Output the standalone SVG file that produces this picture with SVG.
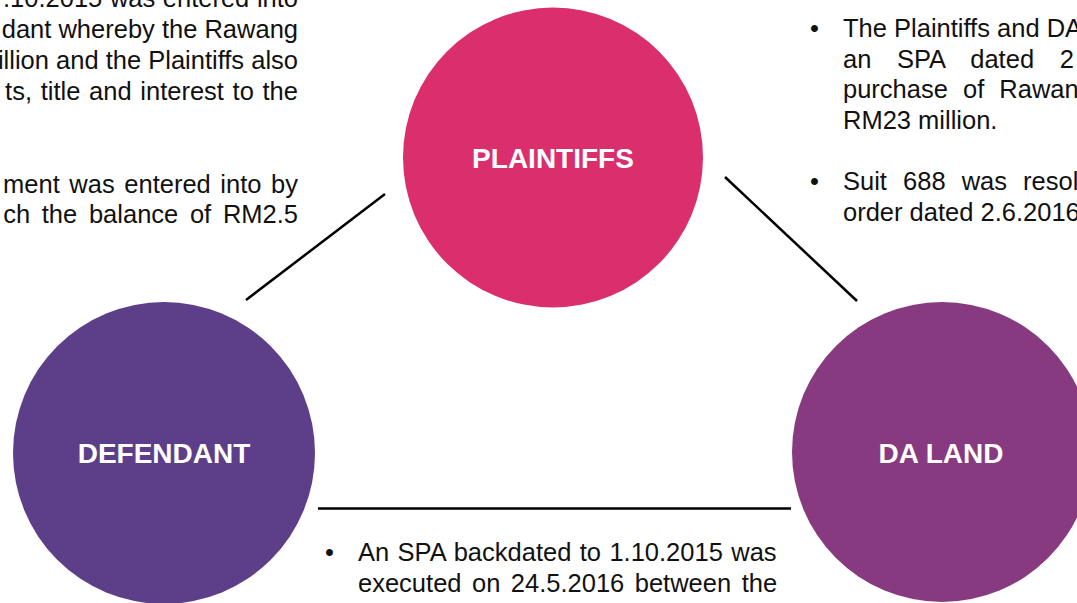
<svg xmlns="http://www.w3.org/2000/svg" width="1077" height="603" viewBox="0 0 1077 603">
<style>
.body{font-family:"Liberation Sans",Arial,sans-serif;font-size:25.5px;fill:#111111}
.label{font-family:"Liberation Sans",Arial,sans-serif;font-size:28px;font-weight:bold;fill:#ffffff;text-anchor:middle}
.conn{stroke:#000000;stroke-width:2.5;fill:none}
</style>
<rect width="1077" height="603" fill="#ffffff"/>
<g id="connectors">
<line class="conn" x1="246" y1="300" x2="385" y2="194"/>
<line class="conn" x1="725" y1="177" x2="857" y2="301"/>
<line class="conn" x1="318" y1="508.5" x2="791" y2="508.5"/>
</g>
<g id="plaintiffs">
<circle cx="553" cy="157.5" r="150" fill="#DB2E6C"/>
<text class="label" x="553" y="168">PLAINTIFFS</text>
</g>
<g id="defendant">
<circle cx="164" cy="453" r="151" fill="#5D3E89"/>
<text class="label" x="164" y="463">DEFENDANT</text>
</g>
<g id="daland">
<circle cx="942" cy="452" r="150" fill="#873A80"/>
<text class="label" x="941" y="463">DA LAND</text>
</g>
<g id="text-left" class="body" text-anchor="end">
<text x="298" y="7" word-spacing="0.5">.10.2015 was entered into</text>
<text x="298" y="38">dant whereby the Rawang</text>
<text x="298" y="69">illion and the Plaintiffs also</text>
<text x="298" y="100" word-spacing="1.6">ts, title and interest to the</text>
<text x="298" y="193" word-spacing="2.5">ment was entered into by</text>
<text x="298" y="223" word-spacing="4.6">ch the balance of RM2.5</text>
</g>
<g id="text-right" class="body">
<text x="810" y="37">•</text>
<text x="843" y="37">The Plaintiffs and DA</text>
<text x="843" y="67.5" word-spacing="18.5">an SPA dated 2</text>
<text x="843" y="98" word-spacing="8">purchase of Rawan</text>
<text x="843" y="129">RM23 million.</text>
<text x="810" y="190">•</text>
<text x="843" y="190" word-spacing="9">Suit 688 was resol</text>
<text x="843" y="221">order dated 2.6.2016</text>
</g>
<g id="text-bottom" class="body">
<text x="325" y="561">•</text>
<text x="358" y="561" word-spacing="1.3">An SPA backdated to 1.10.2015 was</text>
<text x="358" y="592" word-spacing="3.4">executed on 24.5.2016 between the</text>
</g>
</svg>
